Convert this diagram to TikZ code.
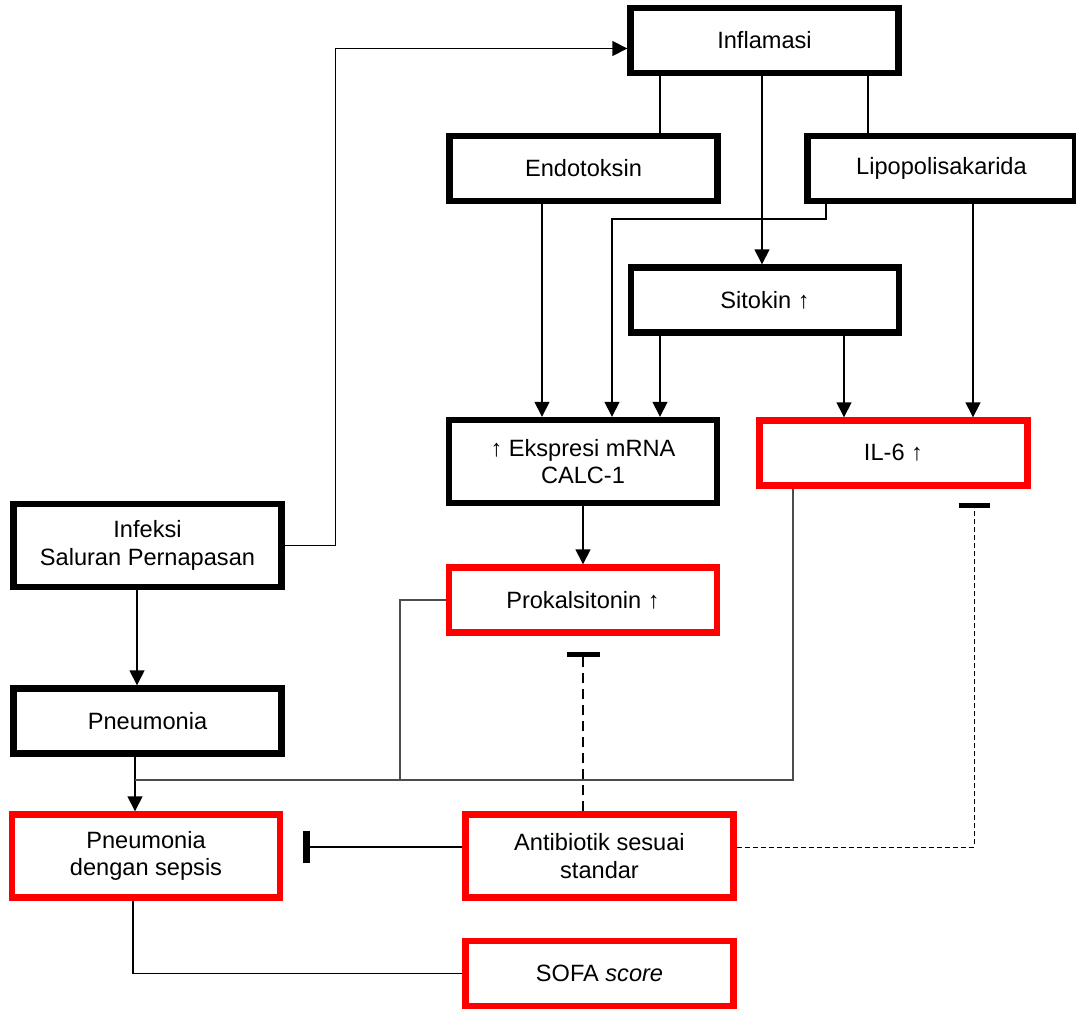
\documentclass[tikz,border=0pt]{standalone}
\usepackage{fontspec}
\setmainfont{Liberation Sans}
\usetikzlibrary{arrows.meta}

\begin{document}
\begin{tikzpicture}[x=0.5pt, y=-0.5pt,
  box/.style={draw, line width=3.2pt, minimum width=134pt, minimum height=32.5pt,
    inner sep=0pt, align=center, font=\fontsize{11.8}{13.8}\selectfont},
  redbox/.style={box, draw=red},
  tall/.style={minimum height=41.5pt},
  arr/.style={-{Triangle[length=7.5pt,width=7.5pt]}, line width=0.75pt},
  ln/.style={line width=0.75pt},
  gline/.style={line width=0.6pt, black!70},
  inh/.style={-{Bar[width=16pt,line width=3.5pt]}, line width=0.75pt}]
\useasboundingbox (0,0) rectangle (1076,1012);

\node[box] (infl) at (764.5,40.5) {Inflamasi};
\node[box] (endo) at (583.5,168.5) {Endotoksin};
\node[box] (lipo) at (941.5,168.5) {Lipopolisakarida};
\node[box] (sito) at (765,300) {Sitokin ↑};
\node[box, tall] (ekspr) at (583,461.5) {↑ Ekspresi mRNA\\CALC-1};
\node[redbox] (il6) at (893.5,453) {IL-6 ↑};
\node[box, tall] (infeksi) at (147.5,545.5) {Infeksi\\Saluran Pernapasan};
\node[redbox] (prok) at (583,600) {Prokalsitonin ↑};
\node[box] (pneu) at (147.5,721) {Pneumonia};
\node[redbox, tall] (sepsis) at (146,856) {Pneumonia\\dengan sepsis};
\node[redbox, tall] (anti) at (599.5,856) {Antibiotik sesuai\\standar};
\node[redbox] (sofa) at (599.5,973.5) {SOFA \textit{score}};

\coordinate (tS) at (303,847);
\coordinate (tP) at (583,652);
\coordinate (tI) at (974,503);

\draw[arr] (infeksi.east) -- ++(51,0) |- ([yshift=-4pt]infl.west);
\draw[ln] (infl.south -| 660,0) -- (endo.north -| 660,0);
\draw[ln] (infl.south -| 868,0) -- (lipo.north -| 868,0);
\draw[arr] (infl.south -| 762,0) -- (sito.north -| 762,0);
\draw[arr] (endo.south -| 542,0) -- (ekspr.north -| 542,0);
\draw[arr] (lipo.south -| 826,0) |- (612,219) -- (ekspr.north -| 612,0);
\draw[arr] (sito.south -| 660,0) -- (ekspr.north -| 660,0);
\draw[arr] (sito.south -| 844,0) -- (il6.north -| 844,0);
\draw[arr] (lipo.south -| 973,0) -- (il6.north -| 973,0);
\draw[arr] (ekspr) -- (prok);
\draw[arr] (infeksi.south -| 137,0) -- (pneu.north -| 137,0);
\draw[arr] (pneu.south -| 135,0) -- (sepsis.north -| 135,0);

% ke pneumonia dengan sepsis
\draw[gline] (prok.west) -| (400,780);
\draw[gline] (il6.south -| 793,0) |- (135,780);

% hambatan antibiotik
\draw[inh] ([yshift=4.5pt]anti.west) -- (tS);
\draw[inh, -{Bar[width=16.5pt,line width=2.5pt]}, line width=1pt, dash pattern=on 5pt off 3pt]
  (anti.north -| tP) -- (tP);
\draw[inh, -{Bar[width=15.5pt,line width=2.5pt]}, line width=0.5pt, dash pattern=on 2.5pt off 1.5pt]
  ([yshift=4.5pt]anti.east) -| (tI);

\draw[ln] (sepsis.south -| 133,0) |- (sofa.west);

\end{tikzpicture}
\end{document}
